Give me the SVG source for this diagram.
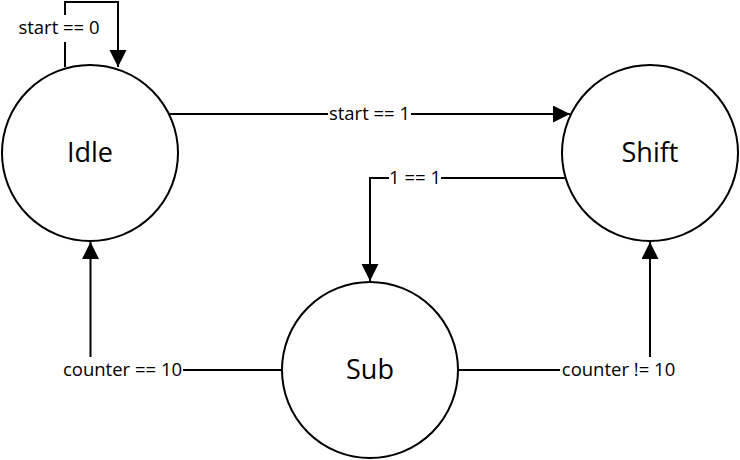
<svg xmlns="http://www.w3.org/2000/svg" width="740" height="460" viewBox="0 0 740 460">
<style>
.node{fill:#fff;stroke:#000;stroke-width:2}
.big{font-family:"Open Sans","Noto Sans",sans-serif;font-size:27px;fill:#000;text-anchor:middle}
.edge{fill:none;stroke:#000;stroke-width:2}
.lbl{font-family:"Open Sans","Noto Sans",sans-serif;font-size:18.5px;fill:#000;text-anchor:middle}
.bg{fill:#fff}
</style>
<defs>
<marker id="arr" markerUnits="userSpaceOnUse" markerWidth="18" markerHeight="18" refX="17" refY="8.5" orient="auto">
<path d="M0,0 L17,8.5 L0,17 z" fill="#000"/>
</marker>
</defs>
<rect width="740" height="460" fill="#fff"/>
<g id="connectors">
<path class="edge" d="M65,67 V2 H118 V67" marker-end="url(#arr)"/>
<rect class="bg" x="18" y="15" width="82" height="27"/>
<text class="lbl" x="59" y="34">start == 0</text>
<path class="edge" d="M169,114 H570" marker-end="url(#arr)"/>
<rect class="bg" x="328" y="104" width="83" height="20"/>
<text class="lbl" x="369.5" y="120">start == 1</text>
<path class="edge" d="M566,178 H370 V281" marker-end="url(#arr)"/>
<rect class="bg" x="389" y="168" width="52" height="20"/>
<text class="lbl" x="415" y="184">1 == 1</text>
<path class="edge" d="M282,370 H90.5 V242" marker-end="url(#arr)"/>
<rect class="bg" x="62" y="357" width="121" height="24"/>
<text class="lbl" x="122.5" y="376">counter == 10</text>
<path class="edge" d="M458,370 H650 V242" marker-end="url(#arr)"/>
<rect class="bg" x="560" y="357" width="117" height="24"/>
<text class="lbl" x="618.5" y="376">counter != 10</text>
</g>
<g id="idle">
<circle class="node" cx="90" cy="153" r="88"/>
<text class="big" x="90" y="162">Idle</text>
</g>
<g id="shift">
<circle class="node" cx="650" cy="153" r="88"/>
<text class="big" x="650" y="162">Shift</text>
</g>
<g id="sub">
<circle class="node" cx="370" cy="370" r="88"/>
<text class="big" x="370" y="379">Sub</text>
</g>
</svg>
